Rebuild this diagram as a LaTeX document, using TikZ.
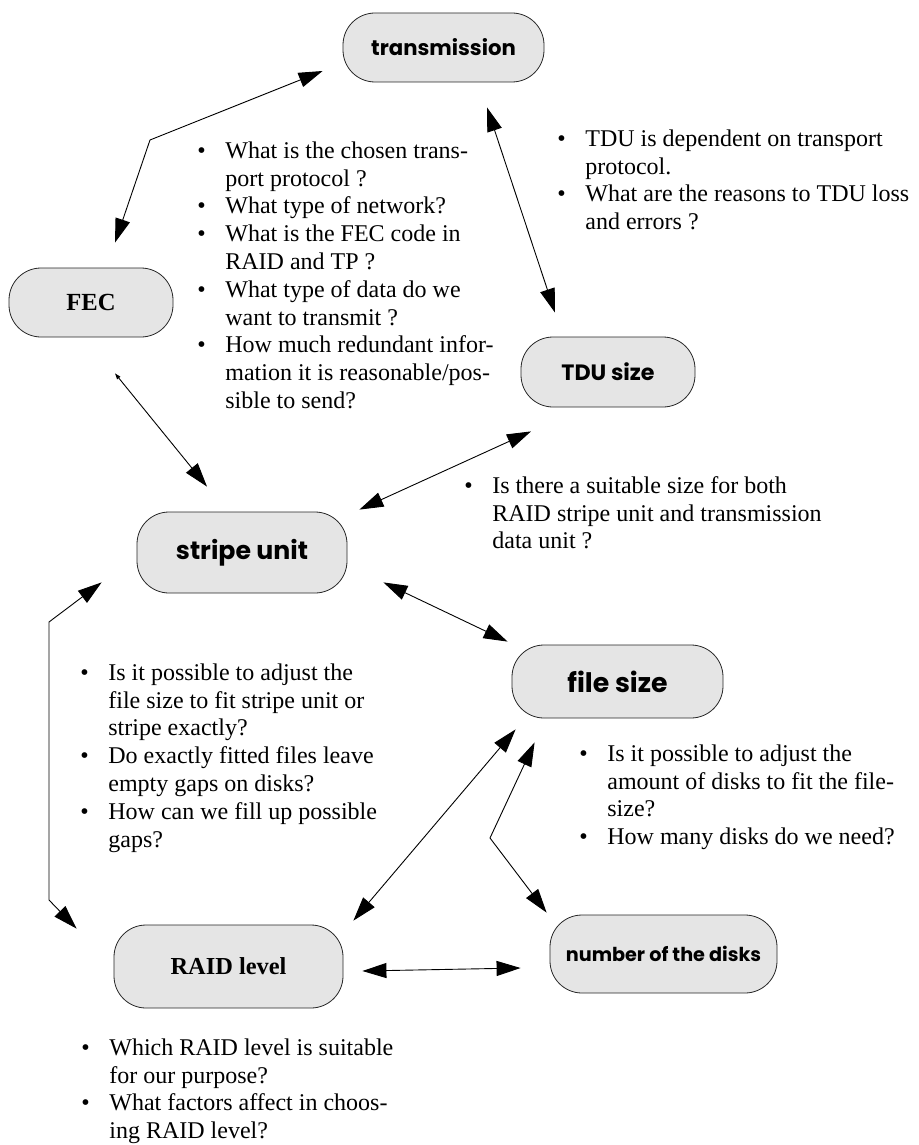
\documentclass[tikz,border=0pt]{standalone}
\usepackage{fontspec}
\setmainfont{Liberation Serif}
\newfontfamily\topicsans{Poppins}
\usetikzlibrary{arrows.meta, calc}
\tikzset{
  topic/.style={draw=black!85, fill=gray!20, rounded corners=16pt, inner sep=0pt,
                align=center, font=\topicsans\bfseries},
  topicrm/.style={topic, font=\bfseries},
  link/.style={{Triangle[length=12pt,width=7.5pt]}-{Triangle[length=12pt,width=7.5pt]}, line width=0.45pt},
  smalllink/.style={link, {Triangle[length=3pt,width=2pt]}-{Triangle[length=12pt,width=7.5pt]}},
  qlist/.style={anchor=north west, inner sep=0pt, font=\fontsize{12}{13.9}\selectfont},
}
\newcommand{\qbul}{\makebox[14pt][l]{\textbullet}}

\begin{document}
\begin{tikzpicture}[x=0.5pt, y=-0.5pt]
  \useasboundingbox (0,0) rectangle (918,1145);

  % topics
  \node[topic, minimum width=100.5pt, minimum height=34.5pt, font=\topicsans\bfseries\fontsize{10.6}{13}\selectfont] (trans) at (443.5,47.5) {transmission};
  \node[topicrm, minimum width=82pt, minimum height=34.5pt, font=\bfseries\fontsize{12.3}{14}\selectfont] (fec) at (91,302.5) {FEC};
  \node[topic, minimum width=87pt, minimum height=35pt, font=\topicsans\bfseries\fontsize{11.1}{13}\selectfont] (tdu) at (608,372) {TDU size};
  \node[topic, minimum width=105pt, minimum height=40.5pt, font=\topicsans\bfseries\fontsize{12.6}{15}\selectfont] (stripe) at (242,552.5) {stripe unit};
  \node[topic, minimum width=105.5pt, minimum height=36.5pt, font=\topicsans\bfseries\fontsize{13.4}{15}\selectfont] (file) at (617.5,681.5) {file size};
  \node[topicrm, minimum width=114.5pt, minimum height=41.5pt, font=\bfseries\fontsize{12.2}{14}\selectfont] (raid) at (228.5,966.5) {RAID level};
  \node[topic, minimum width=113.5pt, minimum height=39pt, font=\topicsans\bfseries\fontsize{9.6}{12}\selectfont] (disks) at (663.5,954) {number of the disks};

  % questions
  \node[qlist] (qtrans) at (197,138.5) {\begin{tabular}{@{}l@{}l@{}}
    \qbul & What is the chosen trans-\\
          & port protocol ?\\
    \qbul & What type of network?\\
    \qbul & What is the FEC code in\\
          & RAID and TP ?\\
    \qbul & What type of data do we\\
          & want to transmit ?\\
    \qbul & How much redundant infor-\\
          & mation it is reasonable/pos-\\
          & sible to send?
  \end{tabular}};
  \node[qlist] (qtdu) at (557,126.5) {\begin{tabular}{@{}l@{}l@{}}
    \qbul & TDU is dependent on transport\\
          & protocol.\\
    \qbul & What are the reasons to TDU loss\\
          & and errors ?
  \end{tabular}};
  \node[qlist] (qsize) at (464,473.5) {\begin{tabular}{@{}l@{}l@{}}
    \qbul & Is there a suitable size for both\\
          & RAID stripe unit and transmission\\
          & data unit ?
  \end{tabular}};
  \node[qlist] (qfit) at (80,660.5) {\begin{tabular}{@{}l@{}l@{}}
    \qbul & Is it possible to adjust the\\
          & file size to fit stripe unit or\\
          & stripe exactly?\\
    \qbul & Do exactly fitted files leave\\
          & empty gaps on disks?\\
    \qbul & How can we fill up possible\\
          & gaps?
  \end{tabular}};
  \node[qlist] (qdisks) at (579,741.5) {\begin{tabular}{@{}l@{}l@{}}
    \qbul & Is it possible to adjust the\\
          & amount of disks to fit the file-\\
          & size?\\
    \qbul & How many disks do we need?
  \end{tabular}};
  \node[qlist] (qraid) at (81,1035.5) {\begin{tabular}{@{}l@{}l@{}}
    \qbul & Which RAID level is suitable\\
          & for our purpose?\\
    \qbul & What factors affect in choos-\\
          & ing RAID level?
  \end{tabular}};

  % bends
  \coordinate (bendfec) at (150,140);
  \coordinate (bendup) at (49,622);
  \coordinate (benddown) at (49,900);
  \coordinate (benddisks) at (490,838);

  % links
  \draw[link] ([shift={(-20,23.5)}]trans.west) -- (bendfec) -- ([shift={(24,-25)}]fec.north);
  \draw[link] ([shift={(43.5,25)}]trans.south) -- ([shift={(-53,-24)}]tdu.north);
  \draw[smalllink] ([shift={(24,36)}]fec.south) -- ([shift={(-35,-25)}]stripe.north);
  \draw[link] ([shift={(-77,24)}]tdu.south) -- ([shift={(12,-2)}]stripe.north east);
  \draw[link] ([shift={(36,-11)}]stripe.south east) -- ([shift={(-4,-3)}]file.north west);
  \draw[link] ([shift={(-35,-11)}]stripe.south west) -- (bendup) -- (benddown) -- ([shift={(-37,4)}]raid.north west);
  \draw[link] ([shift={(4,11)}]file.south west) -- ([shift={(10,-4)}]raid.north east);
  \draw[link] ([shift={(23,24)}]file.south west) -- (benddisks) -- ([shift={(-3,-2)}]disks.north west);
  \draw[link] ([shift={(19,4.5)}]raid.east) -- ([shift={(-29,14)}]disks.west);
\end{tikzpicture}
\end{document}
